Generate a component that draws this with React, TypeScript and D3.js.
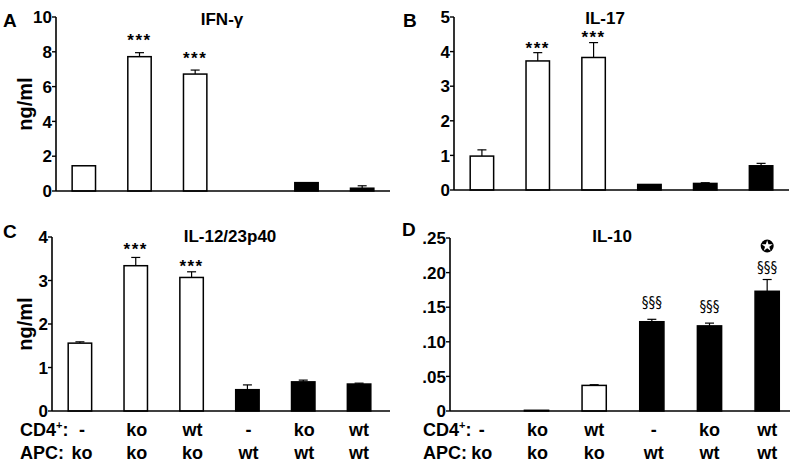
import React from "react";
import * as d3 from "d3";

const groups = ["g1", "g2", "g3", "g4", "g5", "g6"];
const cd4Labels = ["-", "ko", "wt", "-", "ko", "wt"];
const apcLabels = ["ko", "ko", "ko", "wt", "wt", "wt"];
const barFills = ["white", "white", "white", "black", "black", "black"];

const ifnValues = [1.45, 7.72, 6.72, 0, 0.48, 0.16];
const ifnErrors = [0, 0.23, 0.23, 0, 0, 0.14];
const ifnMarks = ["", "***", "***", "", "", ""];
const ifnTicks = [0, 2, 4, 6, 8, 10];

const il17Values = [0.98, 3.73, 3.83, 0.16, 0.19, 0.7];
const il17Errors = [0.18, 0.24, 0.43, 0, 0.02, 0.07];
const il17Marks = ["", "***", "***", "", "", ""];
const il17Ticks = [0, 1, 2, 3, 4, 5];

const il12Values = [1.56, 3.34, 3.07, 0.49, 0.67, 0.62];
const il12Errors = [0.03, 0.19, 0.13, 0.11, 0.04, 0.02];
const il12Marks = ["", "***", "***", "", "", ""];
const il12Ticks = [0, 1, 2, 3, 4];

const il10Values = [0, 0.001, 0.037, 0.129, 0.123, 0.173];
const il10Errors = [0, 0, 0.001, 0.0035, 0.004, 0.017];
const il10Marks = ["", "", "", "§§§", "§§§", "§§§"];
const il10Ticks = [0, 0.05, 0.1, 0.15, 0.2, 0.25];
const il10TickLabels = ["0", ".05", ".10", ".15", ".20", ".25"];

const FONT = "'Liberation Sans', Arial, Helvetica, sans-serif";

type PanelProps = {
  letter: string;
  letterX: number;
  letterY: number;
  title: string;
  titleX: number;
  titleY: number;
  values: number[];
  errors: number[];
  marks: string[];
  ticks: number[];
  tickLabels?: string[];
  yMax: number;
  x0: number;
  x1: number;
  axisEnd: number;
  yTop: number;
  yBottom: number;
  yLabel?: boolean;
  markSerif?: boolean;
  star?: number;
  markGaps: number[];
};

function Panel(p: PanelProps) {
  const x = d3.scalePoint<string>().domain(groups).range([p.x0, p.x1]).padding(0.5);
  const y = d3.scaleLinear().domain([0, p.yMax]).range([p.yBottom, p.yTop]);
  const bw = x.step() * 0.42;
  const capW = 9;
  const markFs = p.markSerif ? 15 : 17;
  const markCenter = p.markSerif ? 0.3 : 0.55;
  return (
    <g>
      <text x={p.letterX} y={p.letterY} fontFamily={FONT} fontWeight="bold" fontSize={19}>
        {p.letter}
      </text>
      <text x={p.titleX} y={p.titleY} textAnchor="middle" fontFamily={FONT} fontWeight="bold" fontSize={17}>
        {p.title}
      </text>
      {p.yLabel && (
        <text
          transform={`translate(32,${(p.yTop + p.yBottom) / 2}) rotate(-90)`}
          textAnchor="middle"
          fontFamily={FONT}
          fontWeight="bold"
          fontSize={20}
        >
          ng/ml
        </text>
      )}
      {groups.map((g, i) => {
        const cx = x(g)!;
        const v = p.values[i];
        const e = p.errors[i];
        const top = y(v);
        const errTop = y(v + e);
        return (
          <g key={g}>
            {e > 0 && (
              <g stroke="black" strokeWidth={1.2}>
                <line x1={cx} x2={cx} y1={top} y2={errTop} />
                <line x1={cx - capW / 2} x2={cx + capW / 2} y1={errTop} y2={errTop} />
              </g>
            )}
            {v > 0 && (
              <rect
                x={cx - bw / 2}
                y={top}
                width={bw}
                height={p.yBottom - top}
                fill={barFills[i]}
                stroke="black"
                strokeWidth={1.5}
              />
            )}
            {p.marks[i] && (
              <text
                x={cx}
                y={errTop - p.markGaps[i] + markCenter * markFs}
                textAnchor="middle"
                fontFamily={p.markSerif ? "'Liberation Sans Narrow', 'DejaVu Sans Condensed', sans-serif" : FONT}
                fontWeight={p.markSerif ? "normal" : "bold"}
                fontSize={markFs}
                letterSpacing={p.markSerif ? 0 : 1.5}
              >
                {p.marks[i]}
              </text>
            )}
          </g>
        );
      })}
      {p.star !== undefined && (
        <g transform={`translate(${x(groups[5])},${p.star})`}>
          <circle r={6.5} fill="black" />
          <path d={d3.symbol(d3.symbolStar, 38)() || ""} fill="white" />
        </g>
      )}
      <line x1={p.x0} x2={p.axisEnd} y1={p.yBottom} y2={p.yBottom} stroke="black" strokeWidth={1.6} />
      <line x1={p.x0} x2={p.x0} y1={p.yTop} y2={p.yBottom} stroke="black" strokeWidth={1.6} />
      {p.ticks.map((t, i) => (
        <g key={t}>
          <line x1={p.x0 - 4} x2={p.x0} y1={y(t)} y2={y(t)} stroke="black" strokeWidth={1.4} />
          <text
            x={p.x0 - 4}
            y={y(t)}
            dy="0.36em"
            textAnchor="end"
            fontFamily={FONT}
            fontWeight="bold"
            fontSize={17}
          >
            {p.tickLabels ? p.tickLabels[i] : String(t)}
          </text>
        </g>
      ))}
    </g>
  );
}

function RowLabels({ x0, x1, labelX, dx }: { x0: number; x1: number; labelX: number; dx: number[] }) {
  const x = d3.scalePoint<string>().domain(groups).range([x0, x1]).padding(0.5);
  return (
    <g fontFamily={FONT} fontWeight="bold" fontSize={18}>
      <text x={labelX} y={436}>
        CD4<tspan fontSize={11} dy={-7}>+</tspan>
        <tspan dy={7}>:</tspan>
      </text>
      <text x={labelX} y={459}>APC:</text>
      {groups.map((g, i) => (
        <g key={g}>
          <text x={x(g)! + dx[i]} y={436} textAnchor="middle">
            {cd4Labels[i]}
          </text>
          <text x={x(g)! + dx[i]} y={459} textAnchor="middle">
            {apcLabels[i]}
          </text>
        </g>
      ))}
    </g>
  );
}

export default function App() {
  return (
    <svg width={800} height={462} style={{ position: "absolute", left: 0, top: 0, background: "white" }}>
      <rect width={800} height={462} fill="white" />
      <Panel
        letter="A" letterX={3} letterY={27}
        title="IFN-γ" titleX={222} titleY={25}
        values={ifnValues} errors={ifnErrors} marks={ifnMarks} markGaps={[0, 16, 15, 0, 0, 0]}
        ticks={ifnTicks} yMax={10}
        x0={56} x1={390} axisEnd={390} yTop={17} yBottom={191} yLabel
      />
      <Panel
        letter="B" letterX={403} letterY={27}
        title="IL-17" titleX={605} titleY={24}
        values={il17Values} errors={il17Errors} marks={il17Marks} markGaps={[0, 8, 8.5, 0, 0, 0]}
        ticks={il17Ticks} yMax={5}
        x0={454} x1={789} axisEnd={789} yTop={17} yBottom={190}
      />
      <Panel
        letter="C" letterX={3} letterY={238}
        title="IL-12/23p40" titleX={230} titleY={242}
        values={il12Values} errors={il12Errors} marks={il12Marks} markGaps={[0, 12, 9, 0, 0, 0]}
        ticks={il12Ticks} yMax={4}
        x0={52} x1={387} axisEnd={390} yTop={237} yBottom={411} yLabel
      />
      <Panel
        letter="D" letterX={402} letterY={236}
        title="IL-10" titleX={612} titleY={242}
        values={il10Values} errors={il10Errors} marks={il10Marks} markGaps={[0, 0, 0, 16, 16, 11]}
        ticks={il10Ticks} tickLabels={il10TickLabels} yMax={0.25}
        x0={450} x1={796} axisEnd={790} yTop={238} yBottom={411}
        markSerif star={246}
      />
      <RowLabels x0={52} x1={387} labelX={20} dx={[2, 1, 1, 1, 1, 0]} />
      <RowLabels x0={450} x1={796} labelX={423} dx={[3, 1, 0, 2, 0, 0]} />
    </svg>
  );
}
